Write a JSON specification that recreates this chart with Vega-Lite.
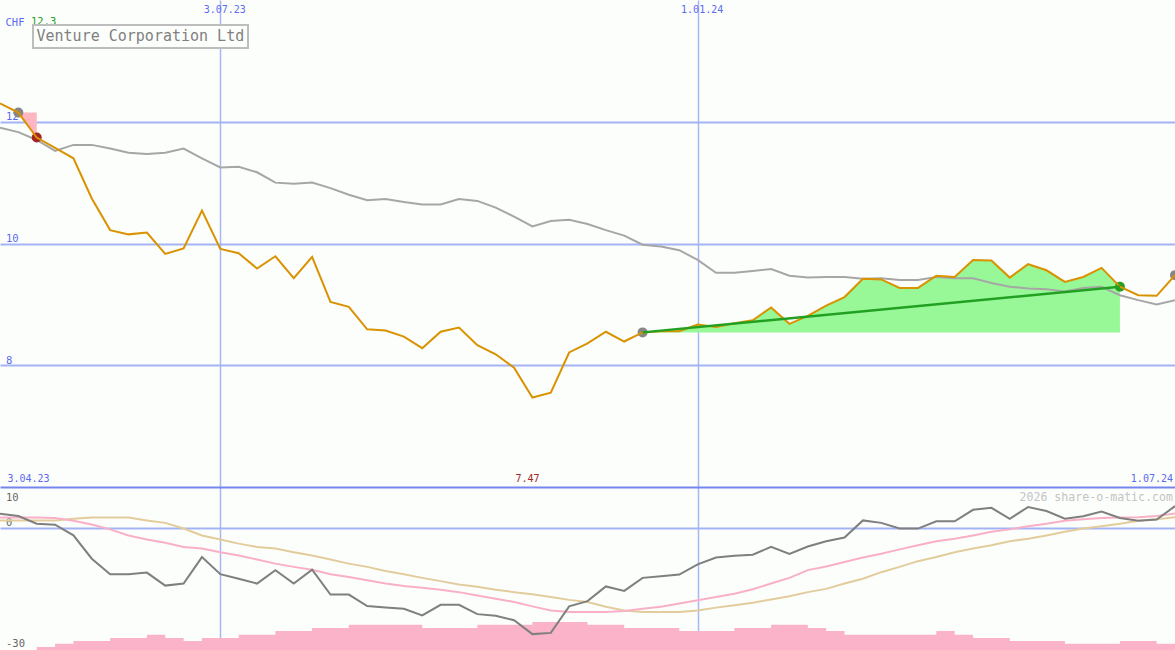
{
  "$schema": "https://vega.github.io/schema/vega-lite/v6.json",
  "background": "#fcfefc",
  "padding": 0,
  "spacing": 0,
  "bounds": "flush",
  "config": {
    "view": {"stroke": null},
    "axis": {"domain": false, "ticks": false, "tickSize": 0, "labelFont": "DejaVu Sans Mono", "titleFont": "DejaVu Sans Mono"},
    "legend": {"strokeWidth": 2}
  },
  "datasets": {
    "price": [
      {"date":"2023-04-10","price":12.30,"ma":11.90},
      {"date":"2023-04-17","price":12.15,"ma":11.83},
      {"date":"2023-04-24","price":11.74,"ma":11.70},
      {"date":"2023-05-01","price":11.57,"ma":11.52},
      {"date":"2023-05-08","price":11.40,"ma":11.62},
      {"date":"2023-05-15","price":10.74,"ma":11.62},
      {"date":"2023-05-22","price":10.22,"ma":11.56},
      {"date":"2023-05-29","price":10.15,"ma":11.49},
      {"date":"2023-06-05","price":10.18,"ma":11.47},
      {"date":"2023-06-12","price":9.83,"ma":11.49},
      {"date":"2023-06-19","price":9.92,"ma":11.56},
      {"date":"2023-06-26","price":10.54,"ma":11.40},
      {"date":"2023-07-03","price":9.91,"ma":11.25},
      {"date":"2023-07-10","price":9.84,"ma":11.26},
      {"date":"2023-07-17","price":9.59,"ma":11.17},
      {"date":"2023-07-24","price":9.79,"ma":11.00},
      {"date":"2023-07-31","price":9.43,"ma":10.98},
      {"date":"2023-08-07","price":9.78,"ma":11.00},
      {"date":"2023-08-14","price":9.04,"ma":10.91},
      {"date":"2023-08-21","price":8.96,"ma":10.80},
      {"date":"2023-08-28","price":8.59,"ma":10.71},
      {"date":"2023-09-04","price":8.57,"ma":10.73},
      {"date":"2023-09-11","price":8.47,"ma":10.68},
      {"date":"2023-09-18","price":8.28,"ma":10.64},
      {"date":"2023-09-25","price":8.55,"ma":10.64},
      {"date":"2023-10-02","price":8.62,"ma":10.73},
      {"date":"2023-10-09","price":8.33,"ma":10.70},
      {"date":"2023-10-16","price":8.18,"ma":10.59},
      {"date":"2023-10-23","price":7.96,"ma":10.44},
      {"date":"2023-10-30","price":7.47,"ma":10.28},
      {"date":"2023-11-06","price":7.55,"ma":10.37},
      {"date":"2023-11-13","price":8.21,"ma":10.39},
      {"date":"2023-11-20","price":8.36,"ma":10.32},
      {"date":"2023-11-27","price":8.55,"ma":10.22},
      {"date":"2023-12-04","price":8.39,"ma":10.13},
      {"date":"2023-12-11","price":8.54,"ma":9.98},
      {"date":"2023-12-18","price":8.56,"ma":9.95},
      {"date":"2023-12-25","price":8.56,"ma":9.89},
      {"date":"2024-01-01","price":8.67,"ma":9.73},
      {"date":"2024-01-08","price":8.63,"ma":9.52},
      {"date":"2024-01-15","price":8.69,"ma":9.52},
      {"date":"2024-01-22","price":8.74,"ma":9.55},
      {"date":"2024-01-29","price":8.95,"ma":9.58},
      {"date":"2024-02-05","price":8.68,"ma":9.47},
      {"date":"2024-02-12","price":8.81,"ma":9.44},
      {"date":"2024-02-19","price":8.98,"ma":9.45},
      {"date":"2024-02-26","price":9.12,"ma":9.45},
      {"date":"2024-03-04","price":9.42,"ma":9.42},
      {"date":"2024-03-11","price":9.41,"ma":9.43},
      {"date":"2024-03-18","price":9.27,"ma":9.40},
      {"date":"2024-03-25","price":9.27,"ma":9.40},
      {"date":"2024-04-01","price":9.47,"ma":9.45},
      {"date":"2024-04-08","price":9.45,"ma":9.43},
      {"date":"2024-04-15","price":9.73,"ma":9.43},
      {"date":"2024-04-22","price":9.72,"ma":9.35},
      {"date":"2024-04-29","price":9.44,"ma":9.29},
      {"date":"2024-05-06","price":9.66,"ma":9.26},
      {"date":"2024-05-13","price":9.56,"ma":9.25},
      {"date":"2024-05-20","price":9.37,"ma":9.21},
      {"date":"2024-05-27","price":9.45,"ma":9.27},
      {"date":"2024-06-03","price":9.60,"ma":9.29},
      {"date":"2024-06-10","price":9.29,"ma":9.15},
      {"date":"2024-06-17","price":9.15,"ma":9.07},
      {"date":"2024-06-24","price":9.14,"ma":9.00},
      {"date":"2024-07-01","price":9.48,"ma":9.07}
    ],
    "osc": [
      {"date":"2023-04-10","mom":3.45,"pink":2.5,"tan":1.8,"vol":0},
      {"date":"2023-04-17","mom":2.88,"pink":2.5,"tan":1.8,"vol":0},
      {"date":"2023-04-24","mom":1.0,"pink":2.5,"tan":1.8,"vol":30},
      {"date":"2023-05-01","mom":0.75,"pink":2.4,"tan":1.8,"vol":63},
      {"date":"2023-05-08","mom":-1.86,"pink":1.7,"tan":2.2,"vol":90},
      {"date":"2023-05-15","mom":-7.6,"pink":0.8,"tan":2.5,"vol":90},
      {"date":"2023-05-22","mom":-11.4,"pink":-0.4,"tan":2.5,"vol":120},
      {"date":"2023-05-29","mom":-11.4,"pink":-1.9,"tan":2.5,"vol":120},
      {"date":"2023-06-05","mom":-11.0,"pink":-2.9,"tan":1.8,"vol":153},
      {"date":"2023-06-12","mom":-14.2,"pink":-3.7,"tan":1.2,"vol":120},
      {"date":"2023-06-19","mom":-13.7,"pink":-4.7,"tan":-0.2,"vol":90},
      {"date":"2023-06-26","mom":-7.2,"pink":-5.1,"tan":-1.9,"vol":120},
      {"date":"2023-07-03","mom":-11.4,"pink":-6.0,"tan":-2.9,"vol":120},
      {"date":"2023-07-10","mom":-12.5,"pink":-6.8,"tan":-3.9,"vol":153},
      {"date":"2023-07-17","mom":-13.7,"pink":-7.8,"tan":-4.7,"vol":153},
      {"date":"2023-07-24","mom":-10.4,"pink":-8.8,"tan":-5.1,"vol":190},
      {"date":"2023-07-31","mom":-13.7,"pink":-9.6,"tan":-6.0,"vol":190},
      {"date":"2023-08-07","mom":-10.3,"pink":-10.3,"tan":-6.8,"vol":220},
      {"date":"2023-08-14","mom":-16.4,"pink":-11.4,"tan":-7.8,"vol":220},
      {"date":"2023-08-21","mom":-16.4,"pink":-12.1,"tan":-8.8,"vol":253},
      {"date":"2023-08-28","mom":-19.2,"pink":-12.9,"tan":-9.6,"vol":253},
      {"date":"2023-09-04","mom":-19.6,"pink":-13.7,"tan":-10.6,"vol":253},
      {"date":"2023-09-11","mom":-19.9,"pink":-14.3,"tan":-11.4,"vol":253},
      {"date":"2023-09-18","mom":-21.5,"pink":-14.7,"tan":-12.3,"vol":220},
      {"date":"2023-09-25","mom":-18.9,"pink":-15.2,"tan":-13.1,"vol":220},
      {"date":"2023-10-02","mom":-18.9,"pink":-15.8,"tan":-13.9,"vol":220},
      {"date":"2023-10-09","mom":-21.2,"pink":-16.6,"tan":-14.5,"vol":253},
      {"date":"2023-10-16","mom":-21.6,"pink":-17.4,"tan":-15.2,"vol":253},
      {"date":"2023-10-23","mom":-22.7,"pink":-18.2,"tan":-15.8,"vol":253},
      {"date":"2023-10-30","mom":-26.1,"pink":-19.3,"tan":-16.3,"vol":280},
      {"date":"2023-11-06","mom":-25.8,"pink":-20.3,"tan":-17.0,"vol":280},
      {"date":"2023-11-13","mom":-19.3,"pink":-20.7,"tan":-17.7,"vol":280},
      {"date":"2023-11-20","mom":-18.0,"pink":-20.7,"tan":-18.2,"vol":253},
      {"date":"2023-11-27","mom":-14.4,"pink":-20.7,"tan":-19.4,"vol":253},
      {"date":"2023-12-04","mom":-15.5,"pink":-20.4,"tan":-20.3,"vol":220},
      {"date":"2023-12-11","mom":-12.3,"pink":-19.9,"tan":-20.7,"vol":220},
      {"date":"2023-12-18","mom":-11.9,"pink":-19.4,"tan":-20.7,"vol":220},
      {"date":"2023-12-25","mom":-11.5,"pink":-18.6,"tan":-20.7,"vol":190},
      {"date":"2024-01-01","mom":-9.0,"pink":-17.8,"tan":-20.3,"vol":190},
      {"date":"2024-01-08","mom":-7.3,"pink":-17.0,"tan":-19.6,"vol":190},
      {"date":"2024-01-15","mom":-6.9,"pink":-16.2,"tan":-19.0,"vol":220},
      {"date":"2024-01-22","mom":-6.6,"pink":-15.1,"tan":-18.4,"vol":220},
      {"date":"2024-01-29","mom":-4.7,"pink":-13.7,"tan":-17.6,"vol":253},
      {"date":"2024-02-05","mom":-6.4,"pink":-12.3,"tan":-16.8,"vol":253},
      {"date":"2024-02-12","mom":-4.6,"pink":-10.4,"tan":-15.8,"vol":220},
      {"date":"2024-02-19","mom":-3.3,"pink":-9.5,"tan":-15.0,"vol":190},
      {"date":"2024-02-26","mom":-2.4,"pink":-8.4,"tan":-13.7,"vol":153},
      {"date":"2024-03-04","mom":1.8,"pink":-7.3,"tan":-12.5,"vol":153},
      {"date":"2024-03-11","mom":1.2,"pink":-6.4,"tan":-10.9,"vol":153},
      {"date":"2024-03-18","mom":-0.2,"pink":-5.3,"tan":-9.6,"vol":153},
      {"date":"2024-03-25","mom":-0.2,"pink":-4.3,"tan":-8.2,"vol":153},
      {"date":"2024-04-01","mom":1.6,"pink":-3.3,"tan":-7.2,"vol":190},
      {"date":"2024-04-08","mom":1.6,"pink":-2.7,"tan":-6.0,"vol":153},
      {"date":"2024-04-15","mom":4.4,"pink":-1.9,"tan":-5.1,"vol":120},
      {"date":"2024-04-22","mom":4.9,"pink":-1.0,"tan":-4.3,"vol":120},
      {"date":"2024-04-29","mom":2.2,"pink":-0.4,"tan":-3.3,"vol":90},
      {"date":"2024-05-06","mom":5.1,"pink":0.35,"tan":-2.7,"vol":90},
      {"date":"2024-05-13","mom":4.1,"pink":1.0,"tan":-1.9,"vol":90},
      {"date":"2024-05-20","mom":2.2,"pink":1.7,"tan":-1.0,"vol":63},
      {"date":"2024-05-27","mom":2.8,"pink":2.1,"tan":-0.2,"vol":63},
      {"date":"2024-06-03","mom":4.0,"pink":2.4,"tan":0.35,"vol":63},
      {"date":"2024-06-10","mom":2.4,"pink":2.5,"tan":1.0,"vol":90},
      {"date":"2024-06-17","mom":1.7,"pink":2.6,"tan":1.7,"vol":90},
      {"date":"2024-06-24","mom":2.0,"pink":2.9,"tan":2.1,"vol":63},
      {"date":"2024-07-01","mom":5.3,"pink":3.5,"tan":2.6,"vol":63}
    ],
    "gain": [
      {"date":"2023-12-11","price":8.54,"entry":8.54},
      {"date":"2023-12-18","price":8.56,"entry":8.54},
      {"date":"2023-12-25","price":8.56,"entry":8.54},
      {"date":"2024-01-01","price":8.67,"entry":8.54},
      {"date":"2024-01-08","price":8.63,"entry":8.54},
      {"date":"2024-01-15","price":8.69,"entry":8.54},
      {"date":"2024-01-22","price":8.74,"entry":8.54},
      {"date":"2024-01-29","price":8.95,"entry":8.54},
      {"date":"2024-02-05","price":8.68,"entry":8.54},
      {"date":"2024-02-12","price":8.81,"entry":8.54},
      {"date":"2024-02-19","price":8.98,"entry":8.54},
      {"date":"2024-02-26","price":9.12,"entry":8.54},
      {"date":"2024-03-04","price":9.42,"entry":8.54},
      {"date":"2024-03-11","price":9.41,"entry":8.54},
      {"date":"2024-03-18","price":9.27,"entry":8.54},
      {"date":"2024-03-25","price":9.27,"entry":8.54},
      {"date":"2024-04-01","price":9.47,"entry":8.54},
      {"date":"2024-04-08","price":9.45,"entry":8.54},
      {"date":"2024-04-15","price":9.73,"entry":8.54},
      {"date":"2024-04-22","price":9.72,"entry":8.54},
      {"date":"2024-04-29","price":9.44,"entry":8.54},
      {"date":"2024-05-06","price":9.66,"entry":8.54},
      {"date":"2024-05-13","price":9.56,"entry":8.54},
      {"date":"2024-05-20","price":9.37,"entry":8.54},
      {"date":"2024-05-27","price":9.45,"entry":8.54},
      {"date":"2024-06-03","price":9.60,"entry":8.54},
      {"date":"2024-06-10","price":9.29,"entry":8.54}
    ],
    "loss": [
      {"date":"2023-04-17","price":12.15,"entry":12.15},
      {"date":"2023-04-24","price":11.74,"entry":12.15}
    ],
    "signals": [
      {"date":"2023-04-17","price":12.15,"signal":"buy"},
      {"date":"2023-04-24","price":11.74,"signal":"stop"},
      {"date":"2023-12-11","price":8.54,"signal":"buy"},
      {"date":"2024-06-10","price":9.29,"signal":"take"},
      {"date":"2024-07-01","price":9.48,"signal":"buy"}
    ],
    "trend": [
      {"date":"2023-12-11","value":8.54},
      {"date":"2024-06-10","value":9.29}
    ]
  },
  "vconcat": [
    {
      "width": 1175,
      "height": 487,
      "encoding": {
        "x": {
          "field": "date", "type": "temporal",
          "scale": {"type": "utc", "domain": [{"year": 2023, "month": 4, "date": 10, "utc": true}, {"year": 2024, "month": 7, "date": 1, "utc": true}]},
          "axis": {
            "orient": "top",
            "values": [{"year": 2023, "month": 7, "date": 3, "utc": true}, {"year": 2024, "month": 1, "date": 1, "utc": true}],
            "format": "%-d.%m.%y",
            "grid": true, "gridColor": "#a9b6f4", "gridWidth": 1.5,
            "labelPadding": -12.7, "labelBaseline": "alphabetic", "labelOffset": 4,
            "labelColor": "#5b6bf0", "labelFontSize": 10, "labelFlush": false, "labelOverlap": false,
            "title": null
          }
        }
      },
      "layer": [
        {
          "data": {"name": "gain"},
          "mark": {"type": "area", "color": "#98f898", "opacity": 1, "clip": true},
          "encoding": {"y": {"field": "price", "type": "quantitative"}, "y2": {"field": "entry"}}
        },
        {
          "data": {"name": "loss"},
          "mark": {"type": "area", "color": "#ffb6c1", "opacity": 1, "clip": true},
          "encoding": {"y": {"field": "price", "type": "quantitative"}, "y2": {"field": "entry"}}
        },
        {
          "data": {"name": "price"},
          "mark": {"type": "line", "color": "#a6a6a6", "strokeWidth": 2, "clip": true},
          "encoding": {"y": {"field": "ma", "type": "quantitative"}}
        },
        {
          "data": {"name": "signals"},
          "mark": {"type": "circle", "size": 100, "opacity": 1, "clip": true},
          "encoding": {
            "y": {"field": "price", "type": "quantitative"},
            "fill": {"field": "signal", "type": "nominal", "scale": {"domain": ["buy", "stop", "take"], "range": ["#878787", "#a52424", "#22a022"]}, "legend": null}
          }
        },
        {
          "data": {"name": "price"},
          "mark": {"type": "line", "strokeWidth": 2, "clip": true},
          "encoding": {
            "y": {
              "field": "price", "type": "quantitative",
              "scale": {"domain": [6, 14], "nice": false, "zero": false},
              "axis": {
                "orient": "left",
                "values": [8, 10, 12],
                "format": "d",
                "grid": true, "gridColor": "#a4b3f3", "gridWidth": 2,
                "labelAlign": "left", "labelBaseline": "alphabetic", "labelPadding": -5.5, "labelOffset": -2,
                "labelColor": "#5b6bf0", "labelFontSize": 10.5,
                "title": "CHF", "titleX": 5, "titleY": 25, "titleAngle": 0, "titleAlign": "left", "titleBaseline": "alphabetic",
                "titleColor": "#5b6bf0", "titleFontSize": 10.5, "titleFontWeight": "normal"
              }
            },
            "color": {
              "datum": "Venture Corporation Ltd", "type": "nominal",
              "scale": {"range": ["#d99200"]},
              "legend": {
                "orient": "none", "legendX": 33, "legendY": 25, "title": null,
                "symbolType": "circle", "symbolSize": 1, "symbolOpacity": 0, "symbolStrokeWidth": 0.01, "labelOffset": -15,
                "labelFont": "DejaVu Sans Mono", "labelFontSize": 15, "labelColor": "#808080", "labelLimit": 400,
                "strokeColor": "#bdbdbd", "padding": 3.5, "fillColor": "#fcfefc"
              }
            }
          }
        },
        {
          "data": {"name": "trend"},
          "mark": {"type": "line", "color": "#22a022", "strokeWidth": 2.5, "clip": true},
          "encoding": {"y": {"field": "value", "type": "quantitative"}}
        },
        {
          "data": {"name": "price"},
          "transform": [{"joinaggregate": [{"op": "max", "field": "price", "as": "maxp"}]}, {"filter": "datum.price == datum.maxp"}],
          "mark": {"type": "text", "align": "left", "baseline": "alphabetic", "dx": 31, "dy": 25, "font": "DejaVu Sans Mono", "fontSize": 10.5, "color": "#22a022"},
          "encoding": {"y": {"datum": 14}, "text": {"field": "price", "type": "quantitative", "format": ".1f"}}
        },
        {
          "data": {"name": "price"},
          "transform": [{"joinaggregate": [{"op": "min", "field": "price", "as": "minp"}]}, {"filter": "datum.price == datum.minp"}],
          "mark": {"type": "text", "align": "center", "baseline": "alphabetic", "dx": -5, "dy": -4.7, "font": "DejaVu Sans Mono", "fontSize": 10, "color": "#a02828"},
          "encoding": {"y": {"datum": 6}, "text": {"field": "price", "type": "quantitative", "format": ".2f"}}
        },
        {
          "data": {"values": [{"date": "2023-04-10", "label": "3.04.23"}]},
          "mark": {"type": "text", "align": "left", "baseline": "alphabetic", "dx": 7.5, "dy": -4.7, "font": "DejaVu Sans Mono", "fontSize": 10, "color": "#5b6bf0"},
          "encoding": {"y": {"datum": 6}, "text": {"field": "label", "type": "nominal"}}
        },
        {
          "data": {"values": [{"date": "2024-07-01", "label": "1.07.24"}]},
          "mark": {"type": "text", "align": "right", "baseline": "alphabetic", "dx": -2, "dy": -4.7, "font": "DejaVu Sans Mono", "fontSize": 10, "color": "#5b6bf0"},
          "encoding": {"y": {"datum": 6}, "text": {"field": "label", "type": "nominal"}}
        }
      ]
    },
    {
      "width": 1175,
      "height": 163,
      "encoding": {
        "x": {
          "field": "date", "type": "temporal",
          "scale": {"type": "utc", "domain": [{"year": 2023, "month": 4, "date": 10, "utc": true}, {"year": 2024, "month": 7, "date": 1, "utc": true}]},
          "axis": {
            "orient": "bottom",
            "values": [{"year": 2023, "month": 7, "date": 3, "utc": true}, {"year": 2024, "month": 1, "date": 1, "utc": true}],
            "grid": true, "gridColor": "#a9b6f4", "gridWidth": 1.5,
            "labels": false, "title": null
          }
        }
      },
      "layer": [
        {
          "data": {"name": "osc"},
          "mark": {"type": "area", "interpolate": "step-after", "color": "#fab3c8", "opacity": 1, "clip": true},
          "encoding": {"y": {"field": "vol", "type": "quantitative", "scale": {"domain": [0, 1630], "nice": false}, "axis": null}}
        },
        {
          "layer": [
            {
              "data": {"name": "osc"},
              "mark": {"type": "line", "color": "#e3cc9c", "strokeWidth": 2, "clip": true},
              "encoding": {"y": {"field": "tan", "type": "quantitative"}}
            },
            {
              "data": {"name": "osc"},
              "mark": {"type": "line", "color": "#f9b0c6", "strokeWidth": 2, "clip": true},
              "encoding": {"y": {"field": "pink", "type": "quantitative"}}
            },
            {
              "data": {"name": "osc"},
              "mark": {"type": "line", "color": "#7f7f7f", "strokeWidth": 2, "clip": true},
              "encoding": {
                "y": {
                  "field": "mom", "type": "quantitative",
                  "scale": {"domain": [-30, 10], "nice": false, "zero": false},
                  "axis": {
                    "orient": "left",
                    "values": [10, 0, -30],
                    "labelExpr": "'' + datum.value",
                    "grid": true, "gridWidth": 2,
                    "gridColor": {"condition": {"test": "datum.value == 10", "value": "#7585ee"}, "value": "#a4b3f3"},
                    "gridOpacity": {"condition": {"test": "datum.value == -30", "value": 0}, "value": 1},
                    "labelAlign": "left", "labelBaseline": "alphabetic", "labelPadding": -5.5,
                    "labelOffset": {"condition": [{"test": "datum.value == 10", "value": 13}, {"test": "datum.value == -30", "value": -4}], "value": -2},
                    "labelColor": "#666666", "labelFontSize": 10.5,
                    "title": null
                  }
                }
              }
            },
            {
              "data": {"values": [{"date": "2024-07-01", "label": "2026 share-o-matic.com"}]},
              "mark": {"type": "text", "align": "right", "baseline": "alphabetic", "dx": -2, "dy": 13.7, "font": "DejaVu Sans Mono", "fontSize": 11.6, "color": "#c4c4c4"},
              "encoding": {"y": {"datum": 10}, "text": {"field": "label", "type": "nominal"}}
            }
          ]
        }
      ],
      "resolve": {"scale": {"y": "independent"}}
    }
  ]
}
